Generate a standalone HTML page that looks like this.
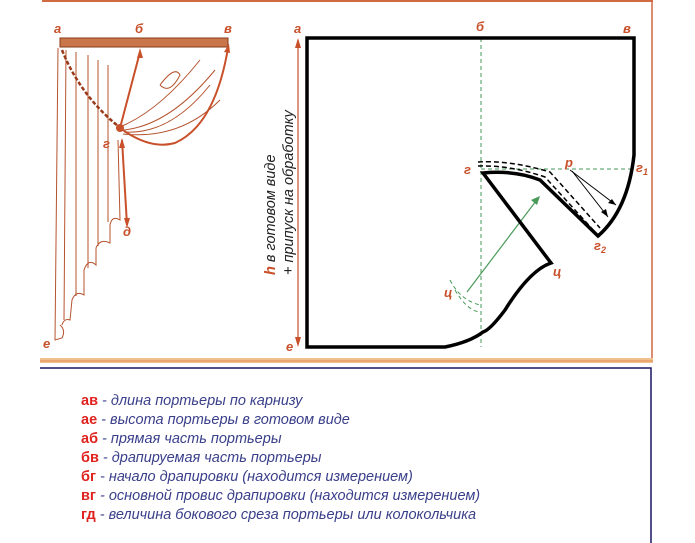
<!DOCTYPE html>
<html><head><meta charset="utf-8"><style>
html,body{margin:0;padding:0;background:#fff;width:695px;height:543px;overflow:hidden}
svg{display:block}
.lbl{font-family:"Liberation Sans",sans-serif;font-style:italic;font-weight:bold;fill:#c8502a;font-size:13px}
.leg{font-family:"Liberation Sans",sans-serif;font-style:italic;font-size:14.5px;fill:#3a3f8a}
.key{fill:#e0221e;font-weight:bold;font-style:normal}
</style></head><body>
<svg width="695" height="543" viewBox="0 0 695 543" xmlns="http://www.w3.org/2000/svg">
<line x1="42" y1="1" x2="653" y2="1" stroke="#d06a40" stroke-width="2"/>
<line x1="652" y1="0" x2="652" y2="362" stroke="#d06a40" stroke-width="1.5"/>
<rect x="40" y="358" width="613" height="5" fill="#f0c090"/>
<line x1="40" y1="361" x2="653" y2="361" stroke="#e08a50" stroke-width="1"/>
<path d="M40 368 H651 V543" fill="none" stroke="#1a1560" stroke-width="1.5"/>

<g fill="none" stroke="#b5532e" stroke-width="1">
<rect x="60" y="38" width="168" height="9" fill="#c8764a" stroke="#8a3a1a"/>
<path d="M58 48 L55 340 L62 338 Q66 330 60 325"/>
<path d="M62 325 Q64 318 70 320 L72 300 Q76 290 84 295 L84 270 Q88 258 96 265 L96 248 Q100 238 110 243 L110 225 Q112 215 120 220 L118 140"/>
<path d="M66 50 L64 320 M76 52 L76 296 M88 55 L88 268 M98 60 L98 246 M108 65 L108 222"/>
<path d="M62 50 Q80 95 118 126" stroke="#9a3a1a" stroke-width="2.5" stroke-dasharray="4 2"/>
<path d="M120 128 Q150 150 175 143 Q215 125 228 48" stroke="#c8502a" stroke-width="2"/>
<path d="M122 126 Q160 110 200 60 M124 130 Q170 125 215 70 M124 132 Q170 135 210 85 M123 134 Q180 140 220 100"/>
<path d="M160 85 Q175 65 180 75 Q170 95 160 85"/>
<path d="M120 128 L140 52" stroke="#c8502a" stroke-width="2"/>
<path d="M122 140 L127 225" stroke="#c8502a" stroke-width="2"/>
</g>
<circle cx="120" cy="128" r="4" fill="#c8502a"/>
<polygon points="140,48 137,58 143,58" fill="#c8502a"/>
<polygon points="229,44 224,52 230,53" fill="#c8502a"/>
<polygon points="122,138 119,148 125,148" fill="#c8502a"/>
<polygon points="127,228 124,218 130,218" fill="#c8502a"/>
<text class="lbl" x="54" y="33">а</text>
<text class="lbl" x="135" y="33">б</text>
<text class="lbl" x="224" y="33">в</text>
<text class="lbl" x="103" y="148">г</text>
<text class="lbl" x="123" y="236">д</text>
<text class="lbl" x="43" y="348">е</text>

<g fill="none" stroke="#4a9a5a" stroke-width="1" stroke-dasharray="4 3">
<line x1="481" y1="38" x2="481" y2="347"/>
<line x1="481" y1="169" x2="634" y2="169"/>
<path d="M450 280 Q460 300 480 305 M455 290 Q468 312 481 312"/>
</g>
<line x1="467" y1="292" x2="536" y2="201" stroke="#4a9a5a" stroke-width="1.2"/>
<polygon points="540,196 531,200 537,205" fill="#4a9a5a"/>
<path d="M307 38 H634 V155 Q628 210 598 236 L540 180 Q515 170 483 173 L551 263 Q530 270 505 310 Q490 330 483 332 Q470 342 445 347 H307 Z" fill="none" stroke="#000" stroke-width="3.5"/>
<g fill="none" stroke="#000" stroke-width="1.5" stroke-dasharray="5 3">
<path d="M478 162 Q510 160 550 172 L600 228"/>
<path d="M478 166 Q510 165 545 177 L595 232"/>
</g>
<g stroke="#000" stroke-width="1">
<line x1="570" y1="170" x2="616" y2="205"/>
<line x1="572" y1="171" x2="608" y2="217"/>
</g>
<polygon points="616,205 608,203 612,199" fill="#000"/>
<polygon points="608,217 601,212 606,209" fill="#000"/>
<line x1="298" y1="42" x2="298" y2="343" stroke="#c8502a" stroke-width="1.2"/>
<polygon points="298,38 295,48 301,48" fill="#c8502a"/>
<polygon points="298,347 295,337 301,337" fill="#c8502a"/>
<text class="lbl" x="294" y="33">а</text>
<text class="lbl" x="476" y="31">б</text>
<text class="lbl" x="623" y="33">в</text>
<text class="lbl" x="464" y="174">г</text>
<text class="lbl" x="565" y="167">р</text>
<text class="lbl" x="636" y="172">г<tspan font-size="9" dy="3">1</tspan></text>
<text class="lbl" x="594" y="250">г<tspan font-size="9" dy="3">2</tspan></text>
<text class="lbl" x="553" y="276">ц</text>
<text class="lbl" x="444" y="297">ц</text>
<text class="lbl" x="286" y="351">е</text>
<g transform="translate(275,275) rotate(-90)">
<text font-family="Liberation Sans,sans-serif" font-style="italic" font-size="14.5" fill="#222"><tspan fill="#c8502a" font-weight="bold">h</tspan> в готовом виде</text>
</g>
<g transform="translate(293,275) rotate(-90)">
<text font-family="Liberation Sans,sans-serif" font-style="italic" font-size="14.5" fill="#222">+ припуск на обработку</text>
</g>

<text class="leg" x="81" y="405"><tspan class="key">ав</tspan> - длина портьеры по карнизу</text>
<text class="leg" x="81" y="424"><tspan class="key">ае</tspan> - высота портьеры в готовом виде</text>
<text class="leg" x="81" y="443"><tspan class="key">аб</tspan> - прямая часть портьеры</text>
<text class="leg" x="81" y="462"><tspan class="key">бв</tspan> - драпируемая часть портьеры</text>
<text class="leg" x="81" y="481"><tspan class="key">бг</tspan> - начало драпировки (находится измерением)</text>
<text class="leg" x="81" y="500"><tspan class="key">вг</tspan> - основной провис драпировки (находится измерением)</text>
<text class="leg" x="81" y="519"><tspan class="key">гд</tspan> - величина бокового среза портьеры или колокольчика</text>
</svg>
</body></html>
